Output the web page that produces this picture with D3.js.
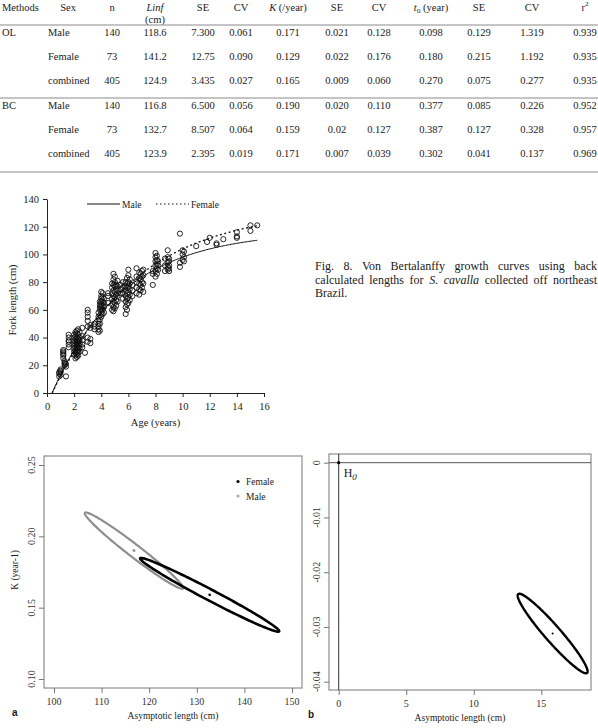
<!DOCTYPE html>
<html>
<head>
<meta charset="utf-8">
<title>S. cavalla growth</title>
<style>
  body{margin:0;background:#fff;}
  svg{display:block;font-family:"Liberation Serif","Times New Roman",serif;fill:#1a1a1a;}
</style>
<script src="https://cdn.jsdelivr.net/npm/d3@7"></script>
</head>
<body>
<svg width="598" height="728"></svg>
<script>
// ---- table data (Table: growth parameters by method and sex) ----
var methods = ["OL", "BC"];
var sexes = ["Male", "Female", "combined", "Male", "Female", "combined"];
var nFish = ["140", "73", "405", "140", "73", "405"];
var linf = ["118.6", "141.2", "124.9", "116.8", "132.7", "123.9"];
var linfSE = ["7.300", "12.75", "3.435", "6.500", "8.507", "2.395"];
var linfCV = ["0.061", "0.090", "0.027", "0.056", "0.064", "0.019"];
var kVal = ["0.171", "0.129", "0.165", "0.190", "0.159", "0.171"];
var kSE = ["0.021", "0.022", "0.009", "0.020", "0.02", "0.007"];
var kCV = ["0.128", "0.176", "0.060", "0.110", "0.127", "0.039"];
var t0Val = ["0.098", "0.180", "0.270", "0.377", "0.387", "0.302"];
var t0SE = ["0.129", "0.215", "0.075", "0.085", "0.127", "0.041"];
var t0CV = ["1.319", "1.192", "0.277", "0.226", "0.328", "0.137"];
var r2 = ["0.939", "0.935", "0.935", "0.952", "0.957", "0.969"];

// ---- Fig 8: back calculated lengths (age -> lengths) ----
var obsAges = [0.9, 1.0, 1.2, 1.3, 1.4, 1.6, 2.0, 2.1, 2.2, 2.3, 2.4, 2.6, 2.8, 3.0, 3.2, 3.5,
  3.8, 3.9, 4.0, 4.1, 4.2, 4.5, 4.8, 4.9, 5.0, 5.1, 5.2, 5.4, 5.6, 5.8, 5.9, 6.0, 6.1, 6.3,
  6.6, 6.8, 6.9, 7.0, 7.1, 7.8, 8.0, 8.1, 8.2, 8.7, 8.9, 9.0, 9.8, 10.0, 10.1, 11.0, 11.8,
  12.0, 12.5, 13.0, 14.0, 15.0, 15.5];
var obsLengths = [
  [12, 14, 15], [13, 15, 16, 17], [25, 27, 28, 29, 30, 31], [20, 21, 22, 23], [12, 19, 21],
  [33, 35, 37, 38, 40, 42], [28, 30, 32, 34, 36, 38, 40, 42],
  [25, 27, 29, 31, 33, 35, 37, 39, 41, 44], [26, 28, 30, 32, 34, 36, 38, 40, 43, 45],
  [27, 29, 31, 33, 35, 37, 39, 42, 46], [30, 32, 34, 36, 38, 40, 44], [33, 35, 38, 41, 47],
  [29], [37, 40, 48, 52, 55, 58, 60], [36, 39, 47, 49], [46, 48, 50],
  [44, 46, 48, 50, 52, 55, 58], [45, 50, 53, 56, 60, 62, 64, 66],
  [55, 58, 60, 62, 64, 66, 68, 70, 73], [57, 60, 63, 66, 69, 72], [58, 62, 65, 68], [65, 70, 72],
  [60, 64, 68, 72, 76, 79], [59, 62, 66, 70, 74, 78, 82, 86], [61, 65, 69, 73, 77, 80, 84],
  [63, 67, 71, 75, 78], [66, 70, 74, 77, 81], [72, 75, 78], [68, 72, 76, 80],
  [57, 62, 66, 70, 74, 77, 80], [60, 64, 68, 72, 76, 79, 83], [65, 69, 73, 77, 80, 85, 89],
  [67, 71, 75, 79, 82], [70, 74, 78], [72, 76, 80, 84, 90], [71, 75, 79, 83, 87],
  [74, 78, 82, 86], [76, 80, 84, 88], [73, 79, 85, 89], [78, 86, 88],
  [84, 88, 92, 95, 98, 101], [86, 90, 93, 96, 99], [89, 92, 95], [88, 92, 97],
  [89, 91, 94, 98, 103], [88, 90, 92, 95, 97], [91, 94, 115], [96, 100, 103], [95, 98, 102],
  [106], [109], [112], [107, 108], [111], [112, 113, 116], [117, 121], [121]];

// fitted von Bertalanffy parameters (BC rows of the table): Linf, K, t0
var vbMale = [116.8, 0.190, 0.377];
var vbFemale = [132.7, 0.159, 0.387];
var vbAgeMax = 15.5;

// ---- confidence ellipses: centre, major and minor half-axis (data units) ----
var ellMale = {center: [116.8, 0.190], major: [-10.3, 0.0265], minor: [0.79, 0.0035]};
var ellFemale = {center: [132.7, 0.159], major: [-14.6, 0.0256], minor: [0.54, 0.0034]};
var ellDiff = {center: [15.84, -0.0312], major: [-2.55, 0.0072], minor: [0.45, 0.00095]};
var h0 = [0, 0];

var ticksAge = d3.range(0, 17, 2), ticksLen = d3.range(0, 141, 20);
var ticksLinfA = [100, 110, 120, 130, 140, 150], ticksKA = [0.10, 0.15, 0.20, 0.25];
var ticksLinfB = [0, 5, 10, 15], ticksKB = [0, -0.01, -0.02, -0.03, -0.04];

var captionLines = [
  [["Fig."], ["8."], ["Von"], ["Bertalanffy"], ["growth"], ["curves"], ["using"], ["back"]],
  [["calculated"], ["lengths"], ["for"], ["S.", 1], ["cavalla", 1], ["collected"], ["off"], ["northeast"]],
  [["Brazil."]]
];

var svg = d3.select("svg");
var serif = '"Liberation Serif","Times New Roman",serif';

// ================= TABLE =================
var tbl = svg.append("g").attr("font-size", 10.5);
var colX = [112, 155, 203, 241, 288, 337, 379, 431, 479, 532, 585];
var cols = [nFish, linf, linfSE, linfCV, kVal, kSE, kCV, t0Val, t0SE, t0CV, r2];
var rowY = d3.scaleLinear().domain([0, 5]).range([36, 157]);

[25, 98, 172].forEach(function(y) {
  tbl.append("line").attr("x1", 0).attr("x2", 598).attr("y1", y).attr("y2", y)
    .attr("stroke", "#8a8a8a").attr("stroke-width", 1);
});

tbl.append("text").attr("x", 2).attr("y", 11).text("Methods");
tbl.append("text").attr("x", 68).attr("y", 11).attr("text-anchor", "middle").text("Sex");
var hdr = function(i) { return tbl.append("text").attr("x", colX[i]).attr("y", 11).attr("text-anchor", "middle"); };
hdr(0).text("n");
hdr(1).append("tspan").attr("font-style", "italic").text("Linf");
tbl.append("text").attr("x", colX[1]).attr("y", 23).attr("text-anchor", "middle").text("(cm)");
hdr(2).text("SE"); hdr(3).text("CV");
var hk = hdr(4);
hk.append("tspan").attr("font-style", "italic").text("K");
hk.append("tspan").text(" (/year)");
hdr(5).text("SE"); hdr(6).text("CV");
var ht = hdr(7);
ht.append("tspan").attr("font-style", "italic").text("t");
ht.append("tspan").attr("font-size", 7.5).attr("dy", 2).text("o");
ht.append("tspan").attr("dy", -2).text(" (year)");
hdr(8).text("SE"); hdr(9).text("CV");
var hr = hdr(10);
hr.append("tspan").text("r");
hr.append("tspan").attr("font-size", 7).attr("dy", -5).text("2");

methods.forEach(function(m, i) {
  tbl.append("text").attr("x", 2).attr("y", rowY(i * 3)).text(m);
});
sexes.forEach(function(s, i) {
  tbl.append("text").attr("x", 48).attr("y", rowY(i)).text(s);
});
cols.forEach(function(col, c) {
  tbl.selectAll(null).data(col).enter().append("text")
    .attr("x", colX[c]).attr("y", function(d, i) { return rowY(i); })
    .attr("text-anchor", "middle").text(function(d) { return d; });
});

// ================= FIG 8 SCATTER =================
var xAge = d3.scaleLinear().domain([0, 16]).range([47, 264]);
var yLen = d3.scaleLinear().domain([0, 140]).range([393, 199]);
var g8 = svg.append("g");

var ax = g8.append("g").attr("transform", "translate(0,393)")
  .call(d3.axisBottom(xAge).tickValues(ticksAge).tickSize(4).tickSizeOuter(0).tickPadding(6));
var ay = g8.append("g").attr("transform", "translate(47,0)")
  .call(d3.axisLeft(yLen).tickValues(ticksLen).tickSize(4).tickSizeOuter(0).tickPadding(4));
[ax, ay].forEach(function(a) {
  a.attr("font-family", serif).attr("font-size", 10.5);
  a.selectAll("line,path").attr("stroke", "#222");
  a.selectAll("text").attr("fill", "#1a1a1a");
});

var pts = [];
obsAges.forEach(function(a, i) { obsLengths[i].forEach(function(l) { pts.push([a, l]); }); });
g8.selectAll(".obs").data(pts).enter().append("circle")
  .attr("class", "obs")
  .attr("cx", function(d) { return xAge(d[0]); })
  .attr("cy", function(d) { return yLen(d[1]); })
  .attr("r", 2.6).attr("fill", "none").attr("stroke", "#111").attr("stroke-width", 0.9);

function vbCurve(p) {
  return d3.range(p[2], vbAgeMax + 0.001, 0.1).concat([vbAgeMax]).map(function(t) {
    return [t, p[0] * (1 - Math.exp(-p[1] * (t - p[2])))];
  });
}
var vbLine = d3.line().x(function(d) { return xAge(d[0]); }).y(function(d) { return yLen(d[1]); });
g8.append("path").attr("d", vbLine(vbCurve(vbMale))).attr("fill", "none")
  .attr("stroke", "#111").attr("stroke-width", 1);
g8.append("path").attr("d", vbLine(vbCurve(vbFemale))).attr("fill", "none")
  .attr("stroke", "#111").attr("stroke-width", 1.3).attr("stroke-dasharray", "2,2.5");

g8.append("text").attr("transform", "translate(16,300) rotate(-90)").attr("text-anchor", "middle")
  .attr("font-size", 10.5).text("Fork length (cm)");
g8.append("text").attr("x", xAge(8)).attr("y", 426).attr("text-anchor", "middle")
  .attr("font-size", 10.5).text("Age (years)");

g8.append("line").attr("x1", 87).attr("x2", 120).attr("y1", 204).attr("y2", 204).attr("stroke", "#111");
g8.append("text").attr("x", 122).attr("y", 207.5).attr("font-size", 9.5).text("Male");
g8.append("line").attr("x1", 156).attr("x2", 189).attr("y1", 204).attr("y2", 204)
  .attr("stroke", "#111").attr("stroke-width", 1.2).attr("stroke-dasharray", "1.5,2.5");
g8.append("text").attr("x", 191).attr("y", 207.5).attr("font-size", 9.5).text("Female");

// caption, justified word by word
var cap = svg.append("g").attr("font-size", 12);
var capY = [270, 283.5, 297];
captionLines.forEach(function(words, li) {
  var ws = words.map(function(w) {
    return cap.append("text").attr("y", capY[li]).attr("font-style", w[1] ? "italic" : null).text(w[0]);
  });
  var widths = ws.map(function(s) { return s.node().getComputedTextLength(); });
  var last = li === captionLines.length - 1;
  var gap = last ? 3 : (597 - 315 - d3.sum(widths)) / (words.length - 1);
  var x = 315;
  ws.forEach(function(s, k) { s.attr("x", x); x += widths[k] + gap; });
});

// ================= ELLIPSE PANELS =================
function ellPts(e) {
  return d3.range(0, 2 * Math.PI, Math.PI / 90).map(function(t) {
    var c = Math.cos(t), s = Math.sin(t);
    return [e.center[0] + e.major[0] * c + e.minor[0] * s, e.center[1] + e.major[1] * c + e.minor[1] * s];
  });
}

function panel(opt) {
  var g = svg.append("g");
  var x = opt.x, y = opt.y;
  g.append("rect").attr("x", opt.box[0]).attr("y", opt.box[1])
    .attr("width", opt.box[2] - opt.box[0]).attr("height", opt.box[3] - opt.box[1])
    .attr("fill", "none").attr("stroke", "#777").attr("stroke-width", 1);
  var axb = g.append("g").attr("transform", "translate(0," + opt.box[3] + ")")
    .call(d3.axisBottom(x).tickValues(opt.xt).tickSize(5).tickSizeOuter(0).tickFormat(""));
  var axl = g.append("g").attr("transform", "translate(" + opt.box[0] + ",0)")
    .call(d3.axisLeft(y).tickValues(opt.yt).tickSize(5).tickSizeOuter(0).tickFormat(""));
  [axb, axl].forEach(function(a) {
    a.select(".domain").remove();
    a.selectAll("line").attr("stroke", "#777");
  });
  g.selectAll(".xl").data(opt.xt).enter().append("text")
    .attr("x", function(d) { return x(d); }).attr("y", opt.box[3] + 17)
    .attr("text-anchor", "middle").attr("font-size", 10).attr("fill", "#333")
    .text(function(d) { return d; });
  g.selectAll(".yl").data(opt.yt).enter().append("text")
    .attr("transform", function(d) { return "translate(" + (opt.box[0] - 9) + "," + y(d) + ") rotate(-90)"; })
    .attr("text-anchor", "middle").attr("font-size", 10).attr("fill", "#333")
    .text(opt.yfmt);
  g.append("text").attr("x", (opt.box[0] + opt.box[2]) / 2).attr("y", opt.box[3] + 31)
    .attr("text-anchor", "middle").attr("font-size", 9.5).text("Asymptotic length (cm)");
  g.append("text").attr("x", opt.tag[0]).attr("y", opt.tag[1])
    .attr("font-family", '"Liberation Sans",Arial,sans-serif').attr("font-weight", "bold")
    .attr("font-size", 10).text(opt.tagText);
  return g;
}

var xA = d3.scaleLinear().domain([100, 150]).range([54, 292]);
var yA = d3.scaleLinear().domain([0.10, 0.25]).range([679, 465]);
var gA = panel({x: xA, y: yA, box: [44, 456, 302, 688], xt: ticksLinfA, yt: ticksKA,
  yfmt: function(d) { return d.toFixed(2); }, tag: [12, 716], tagText: "a"});
gA.append("text").attr("transform", "translate(18,570) rotate(-90)").attr("text-anchor", "middle")
  .attr("font-size", 9.5).text("K (year-1)");

var lineA = d3.line().curve(d3.curveLinearClosed)
  .x(function(d) { return xA(d[0]); }).y(function(d) { return yA(d[1]); });
gA.append("path").attr("d", lineA(ellPts(ellMale))).attr("fill", "none")
  .attr("stroke", "#8e8e8e").attr("stroke-width", 2.2);
gA.append("path").attr("d", lineA(ellPts(ellFemale))).attr("fill", "none")
  .attr("stroke", "#000").attr("stroke-width", 2.6);
gA.append("circle").attr("cx", xA(ellMale.center[0])).attr("cy", yA(ellMale.center[1]))
  .attr("r", 1.5).attr("fill", "#999");
gA.append("circle").attr("cx", xA(ellFemale.center[0])).attr("cy", yA(ellFemale.center[1]))
  .attr("r", 1.3).attr("fill", "#000");

gA.append("circle").attr("cx", 238).attr("cy", 481.5).attr("r", 1.6).attr("fill", "#000");
gA.append("text").attr("x", 246).attr("y", 485).attr("font-size", 9.5).text("Female");
gA.append("circle").attr("cx", 238).attr("cy", 496).attr("r", 1.6).attr("fill", "#aaa");
gA.append("text").attr("x", 246).attr("y", 499.5).attr("font-size", 9.5).text("Male");

var xB = d3.scaleLinear().domain([0, 15]).range([338.7, 541.3]);
var yB = d3.scaleLinear().domain([-0.04, 0]).range([681.7, 462.7]);
var gB = panel({x: xB, y: yB, box: [329, 454, 591, 690], xt: ticksLinfB, yt: ticksKB,
  yfmt: function(d) { return d === 0 ? "0" : d.toFixed(2); }, tag: [308, 718], tagText: "b"});

gB.append("line").attr("x1", 329).attr("x2", 591).attr("y1", yB(h0[1])).attr("y2", yB(h0[1]))
  .attr("stroke", "#555").attr("stroke-width", 1);
gB.append("line").attr("x1", xB(h0[0])).attr("x2", xB(h0[0])).attr("y1", 454).attr("y2", 690)
  .attr("stroke", "#333").attr("stroke-width", 1);
gB.append("circle").attr("cx", xB(h0[0])).attr("cy", yB(h0[1])).attr("r", 1.6).attr("fill", "#000");
var h0t = gB.append("text").attr("x", xB(h0[0]) + 5).attr("y", yB(h0[1]) + 14).attr("font-size", 12);
h0t.append("tspan").text("H");
h0t.append("tspan").attr("font-style", "italic").attr("font-size", 9).attr("dy", 3).text("0");

var lineB = d3.line().curve(d3.curveLinearClosed)
  .x(function(d) { return xB(d[0]); }).y(function(d) { return yB(d[1]); });
gB.append("path").attr("d", lineB(ellPts(ellDiff))).attr("fill", "none")
  .attr("stroke", "#000").attr("stroke-width", 2.4);
gB.append("circle").attr("cx", xB(ellDiff.center[0])).attr("cy", yB(ellDiff.center[1]))
  .attr("r", 1).attr("fill", "#000");
</script>
</body>
</html>
